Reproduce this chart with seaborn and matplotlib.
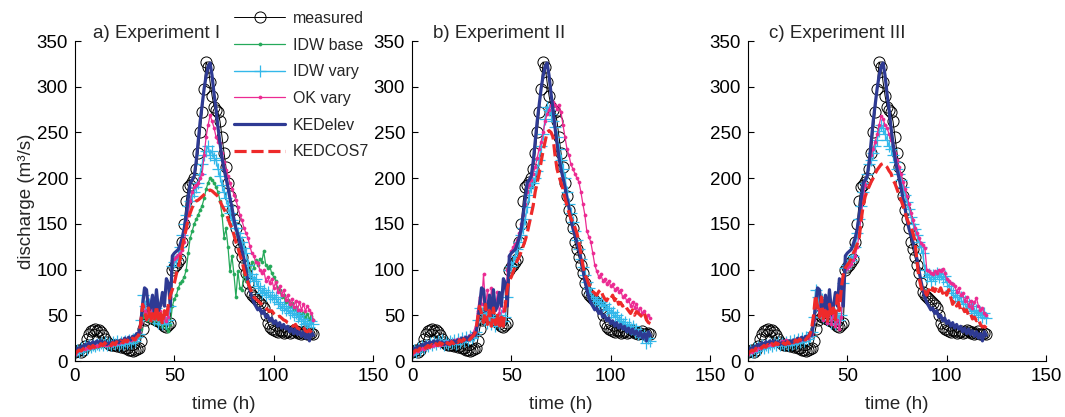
import numpy as np
import matplotlib
matplotlib.use("Agg")
import matplotlib.pyplot as plt
import seaborn as sns
from matplotlib.lines import Line2D

# ---------------- data (hourly, t = 0 .. 120 h) ----------------
hours = np.arange(0, 121)

measured = [10, 11, 12, 10, 12, 16, 24, 30, 33, 34,
            35, 33, 34, 32, 28, 24, 21, 19, 18, 18,
            17, 16, 17, 15, 16, 14, 14, 12, 12, 11,
            12, 13, 14, 22, 35, 45, 50, 48, 50, 47,
            46, 45, 44, 43, 40, 38, 37, 39, 42, 100,
            103, 105, 108, 112, 130, 150, 175, 190, 193, 196,
            200, 210, 228, 250, 272, 298, 327, 322, 305, 290,
            278, 275, 272, 262, 245, 228, 212, 195, 180, 165,
            155, 145, 130, 122, 114, 105, 96, 85, 76, 72,
            70, 68, 66, 63, 61, 58, 50, 42, 37, 35,
            34, 33, 32, 34, 33, 31, 32, 33, 31, 32,
            34, 33, 31, 32, 30, 31, 33, 30, 29, 31,
            30]

kedelev = [10, 14, 13, 16, 15, 18, 17, 20, 18, 21,
           19, 22, 20, 22, 19, 21, 18, 20, 18, 21,
           19, 22, 20, 23, 21, 25, 22, 26, 23, 27,
           25, 30, 28, 40, 60, 80, 78, 55, 58, 72,
           50, 78, 55, 60, 75, 60, 90, 85, 60, 115,
           118, 120, 122, 128, 135, 145, 160, 178, 195, 198,
           202, 218, 240, 262, 280, 298, 312, 322, 326, 312,
           292, 275, 255, 238, 222, 210, 200, 190, 178, 168,
           155, 145, 138, 130, 122, 112, 100, 88, 78, 70,
           64, 60, 56, 58, 52, 55, 48, 50, 44, 47,
           41, 44, 38, 42, 36, 40, 35, 38, 32, 36,
           30, 35, 29, 33, 27, 32, 25, 30, 22, 32,
           28]

# Experiment I
idw_base_a = [8, 10, 12, 11, 13, 12, 14, 13, 15, 14,
              16, 15, 17, 16, 18, 17, 16, 18, 17, 19,
              18, 20, 19, 21, 20, 22, 21, 23, 22, 24,
              22, 26, 28, 35, 48, 52, 45, 50, 44, 48,
              42, 46, 40, 44, 38, 42, 36, 33, 40, 60,
              68, 72, 80, 85, 88, 92, 100, 118, 135, 142,
              150, 155, 160, 165, 170, 178, 188, 195, 200, 198,
              195, 190, 185, 175, 160, 135, 145, 125, 98, 115,
              95, 70, 98, 80, 78, 95, 88, 100, 95, 108,
              102, 110, 105, 112, 108, 120, 105, 102, 104, 96,
              92, 88, 80, 78, 70, 72, 64, 67, 60, 63,
              56, 59, 53, 56, 50, 53, 48, 51, 46, 49,
              45]
idw_vary_a = [9, 12, 10, 14, 12, 16, 13, 17, 15, 18,
              16, 19, 17, 20, 18, 21, 17, 20, 18, 21,
              19, 22, 18, 21, 19, 22, 20, 23, 20, 24,
              22, 26, 30, 45, 72, 60, 52, 62, 48, 55,
              45, 58, 42, 50, 40, 48, 42, 45, 60, 104,
              108, 110, 115, 125, 138, 150, 160, 170, 175, 180,
              185, 190, 195, 205, 215, 225, 230, 235, 225, 230,
              222, 220, 210, 202, 192, 185, 178, 170, 162, 154,
              150, 145, 140, 136, 130, 124, 118, 105, 92, 95,
              88, 90, 82, 80, 74, 78, 72, 75, 70, 72,
              68, 70, 64, 62, 58, 60, 56, 58, 52, 55,
              50, 52, 48, 50, 44, 46, 40, 42, 37, 44,
              41]
ok_vary_a = [8, 11, 13, 12, 14, 13, 15, 14, 16, 15,
             17, 16, 18, 17, 19, 18, 17, 19, 18, 20,
             19, 21, 20, 22, 21, 23, 22, 24, 23, 25,
             24, 28, 32, 42, 60, 55, 48, 58, 50, 60,
             48, 62, 50, 55, 45, 50, 44, 48, 70, 108,
             112, 114, 116, 118, 121, 130, 145, 160, 175, 185,
             190, 192, 195, 200, 205, 225, 245, 258, 269, 262,
             255, 245, 240, 238, 228, 218, 209, 202, 195, 188,
             182, 176, 168, 160, 154, 146, 140, 135, 126, 118,
             115, 108, 107, 100, 96, 100, 88, 92, 85, 90,
             80, 86, 76, 82, 72, 78, 67, 72, 62, 68,
             59, 66, 56, 64, 56, 62, 55, 60, 56, 52,
             45]
kedcos7_a = [8, 10, 12, 11, 13, 15, 13, 16, 14, 17,
             15, 18, 16, 19, 17, 20, 17, 19, 17, 20,
             18, 21, 19, 22, 20, 23, 21, 24, 22, 25,
             23, 26, 28, 40, 62, 55, 45, 58, 42, 52,
             44, 60, 45, 52, 40, 55, 48, 62, 72, 78,
             85, 95, 103, 112, 125, 135, 145, 155, 162, 168,
             172, 175, 176, 178, 180, 182, 184, 186, 187, 186,
             184, 182, 180, 175, 170, 166, 162, 156, 150, 145,
             138, 130, 124, 116, 110, 100, 92, 86, 80, 75,
             70, 68, 66, 64, 62, 60, 58, 56, 54, 55,
             52, 50, 48, 49, 47, 45, 44, 42, 41, 39,
             38, 40, 36, 35, 34, 37, 33, 32, 34, 31,
             31]

# Experiment II
idw_vary_b = [8, 12, 10, 14, 12, 16, 14, 18, 16, 20,
              18, 21, 19, 22, 20, 23, 18, 21, 19, 22,
              20, 23, 19, 24, 21, 25, 22, 26, 23, 27,
              25, 28, 32, 45, 58, 52, 45, 55, 42, 50,
              40, 48, 38, 46, 40, 50, 44, 48, 70, 100,
              104, 108, 115, 122, 130, 138, 145, 155, 168, 182,
              190, 195, 200, 208, 220, 235, 248, 265, 278, 275,
              270, 262, 256, 245, 232, 220, 210, 200, 185, 172,
              162, 152, 142, 132, 122, 112, 103, 94, 86, 80,
              74, 70, 66, 68, 62, 65, 60, 62, 56, 58,
              52, 54, 48, 50, 44, 46, 40, 43, 37, 40,
              35, 38, 32, 35, 30, 32, 26, 28, 20, 25,
              22]
ok_vary_b = [8, 10, 12, 11, 13, 14, 13, 16, 15, 17,
             16, 18, 17, 19, 18, 20, 19, 21, 20, 22,
             21, 23, 22, 24, 23, 25, 24, 26, 25, 28,
             27, 32, 38, 55, 70, 62, 95, 60, 78, 55,
             80, 62, 58, 75, 52, 65, 55, 60, 100, 115,
             120, 125, 128, 132, 140, 150, 160, 172, 185, 192,
             198, 205, 212, 222, 232, 240, 250, 262, 270, 275,
             280, 283, 280, 276, 280, 272, 258, 245, 232, 225,
             215, 210, 205, 200, 196, 185, 172, 160, 142, 136,
             130, 118, 105, 98, 92, 95, 88, 90, 84, 88,
             82, 84, 78, 80, 76, 78, 70, 72, 66, 68,
             60, 65, 58, 62, 55, 58, 52, 55, 48, 50,
             47]
kedcos7_b = [8, 10, 12, 11, 14, 13, 16, 14, 17, 15,
             18, 16, 19, 17, 20, 18, 21, 18, 20, 18,
             21, 19, 22, 20, 23, 21, 24, 22, 25, 23,
             26, 28, 32, 45, 60, 52, 42, 62, 40, 55,
             38, 58, 40, 52, 35, 48, 38, 62, 80, 88,
             92, 98, 104, 110, 114, 120, 126, 132, 140, 150,
             160, 170, 185, 195, 205, 218, 230, 240, 250, 252,
             250, 245, 225, 210, 202, 195, 188, 178, 170, 162,
             156, 152, 146, 140, 130, 118, 105, 95, 90, 84,
             80, 76, 74, 72, 76, 78, 72, 68, 66, 70,
             68, 72, 66, 70, 62, 64, 60, 62, 58, 55,
             52, 56, 50, 54, 52, 50, 48, 52, 45, 42,
             41]

# Experiment III
idw_vary_c = [9, 12, 10, 14, 11, 15, 13, 17, 14, 18,
              15, 19, 16, 20, 17, 21, 18, 20, 17, 21,
              18, 22, 19, 23, 20, 24, 21, 25, 22, 26,
              24, 27, 32, 48, 78, 70, 55, 68, 48, 62,
              45, 58, 42, 55, 40, 52, 45, 50, 85, 102,
              105, 108, 110, 115, 125, 140, 155, 170, 185, 195,
              205, 215, 220, 228, 235, 242, 252, 258, 255, 248,
              242, 235, 232, 225, 218, 210, 205, 198, 190, 182,
              174, 166, 158, 150, 144, 138, 130, 125, 118, 100,
              92, 95, 88, 94, 90, 96, 92, 95, 90, 93,
              86, 82, 78, 74, 70, 72, 66, 70, 62, 66,
              58, 62, 55, 60, 52, 56, 50, 54, 48, 52,
              47]
ok_vary_c = [8, 11, 10, 13, 12, 15, 14, 17, 16, 18,
             17, 19, 18, 20, 19, 21, 20, 22, 21, 23,
             20, 22, 21, 23, 22, 24, 23, 25, 24, 26,
             25, 28, 30, 45, 70, 60, 50, 65, 45, 58,
             42, 55, 40, 50, 38, 45, 35, 48, 90, 100,
             102, 104, 106, 110, 115, 125, 140, 158, 178, 192,
             205, 218, 225, 232, 240, 248, 258, 268, 265, 258,
             255, 248, 242, 235, 228, 220, 212, 205, 196, 188,
             180, 172, 162, 154, 146, 140, 135, 129, 127, 124,
             100, 98, 96, 95, 98, 96, 100, 98, 101, 96,
             90, 88, 85, 84, 82, 76, 80, 72, 74, 66,
             70, 60, 66, 58, 64, 69, 60, 56, 58, 52,
             50]
kedcos7_c = [8, 10, 12, 11, 14, 13, 16, 14, 17, 15,
             18, 16, 19, 17, 20, 18, 21, 18, 20, 18,
             21, 19, 22, 20, 23, 21, 24, 22, 25, 23,
             26, 28, 35, 50, 72, 60, 48, 70, 45, 55,
             42, 62, 48, 58, 45, 72, 55, 80, 95, 102,
             105, 108, 112, 118, 122, 128, 135, 155, 170, 180,
             186, 191, 196, 200, 205, 209, 212, 215, 216, 214,
             212, 208, 205, 198, 194, 188, 182, 176, 170, 162,
             156, 150, 147, 140, 132, 110, 92, 82, 74, 76,
             72, 78, 74, 80, 76, 81, 76, 80, 74, 78,
             72, 78, 70, 62, 66, 60, 64, 56, 59, 54,
             56, 50, 52, 46, 48, 44, 46, 40, 37, 38,
             36]

panel_titles = ["a) Experiment I", "b) Experiment II", "c) Experiment III"]
series_names = ["measured", "IDW base", "IDW vary", "OK vary", "KEDelev", "KEDCOS7"]

# ---------------- styles ----------------
C_GREEN = "#25a95a"
C_CYAN = "#33b8ea"
C_MAG = "#ec2a92"
C_NAVY = "#2e3a93"
C_RED = "#ee2a2a"

styles = {
    "measured": dict(color="black", linewidth=0.7, marker="o", markersize=8,
                     markerfacecolor="none", markeredgecolor="black", markeredgewidth=0.7),
    "IDW base": dict(color=C_GREEN, linewidth=0.9, marker="o", markersize=2.2,
                     markerfacecolor=C_GREEN, markeredgecolor=C_GREEN, markeredgewidth=0.5),
    "IDW vary": dict(color=C_CYAN, linewidth=1.0, marker="+", markersize=8,
                     markerfacecolor=C_CYAN, markeredgecolor=C_CYAN, markeredgewidth=0.9),
    "OK vary": dict(color=C_MAG, linewidth=0.9, marker="o", markersize=2.2,
                    markerfacecolor=C_MAG, markeredgecolor=C_MAG, markeredgewidth=0.5),
    "KEDelev": dict(color=C_NAVY, linewidth=2.3),
    "KEDCOS7": dict(color=C_RED, linewidth=2.3, linestyle=(0, (3.8, 1.5))),
}

sns.set_theme(style="ticks")
plt.rcParams["font.family"] = ["Liberation Sans", "DejaVu Sans"]
plt.rcParams["axes.linewidth"] = 0.8

W, H = 1065, 417
fig = plt.figure(figsize=(W / 100, H / 100), dpi=100)

ax_lefts = [75, 412, 748]
ax_w = 298
ax_top, ax_bottom = 41, 361
axes = []
for lp in ax_lefts:
    ax = fig.add_axes([lp / W, 1 - ax_bottom / H, ax_w / W, (ax_bottom - ax_top) / H])
    axes.append(ax)

panel_data = [
    [("measured", measured), ("IDW base", idw_base_a), ("IDW vary", idw_vary_a),
     ("OK vary", ok_vary_a), ("KEDelev", kedelev), ("KEDCOS7", kedcos7_a)],
    [("measured", measured), ("IDW vary", idw_vary_b), ("OK vary", ok_vary_b),
     ("KEDelev", kedelev), ("KEDCOS7", kedcos7_b)],
    [("measured", measured), ("IDW vary", idw_vary_c), ("OK vary", ok_vary_c),
     ("KEDelev", kedelev), ("KEDCOS7", kedcos7_c)],
]

FS = 13.5
for i, ax in enumerate(axes):
    for name, vals in panel_data[i]:
        sns.lineplot(x=hours, y=vals, ax=ax, estimator=None, errorbar=None,
                     sort=False, **styles[name])
    if ax.get_legend() is not None:
        ax.get_legend().remove()
    ax.set_xlim(0, 150)
    ax.set_ylim(0, 350)
    ax.set_xticks([0, 50, 100, 150])
    ax.set_yticks(np.arange(0, 351, 50))
    ax.tick_params(direction="in", length=4, width=0.8, labelsize=FS, pad=5, colors="black")
    for s in ["top", "right"]:
        ax.spines[s].set_visible(False)
    for s in ["left", "bottom"]:
        ax.spines[s].set_color("black")
    ax.set_xlabel("time (h)", fontsize=FS, labelpad=8)
    ax.set_ylabel("")
    ax.text(0.062 if i == 0 else 0.07, 0.996, panel_titles[i], transform=ax.transAxes,
            fontsize=FS, ha="left", va="bottom")

axes[0].set_ylabel("discharge (m³/s)", fontsize=FS, labelpad=1)

handles = [Line2D([], [], **styles[n]) for n in series_names]
axes[0].legend(handles, series_names, loc="upper left",
               bbox_to_anchor=(234 / W, 1 - 11 / H), bbox_transform=fig.transFigure,
               frameon=False, fontsize=11.5,
               handlelength=3.2, handletextpad=0.5,
               labelspacing=0.73, borderpad=0, borderaxespad=0, numpoints=1)

fig.savefig("out.png", dpi=100)
